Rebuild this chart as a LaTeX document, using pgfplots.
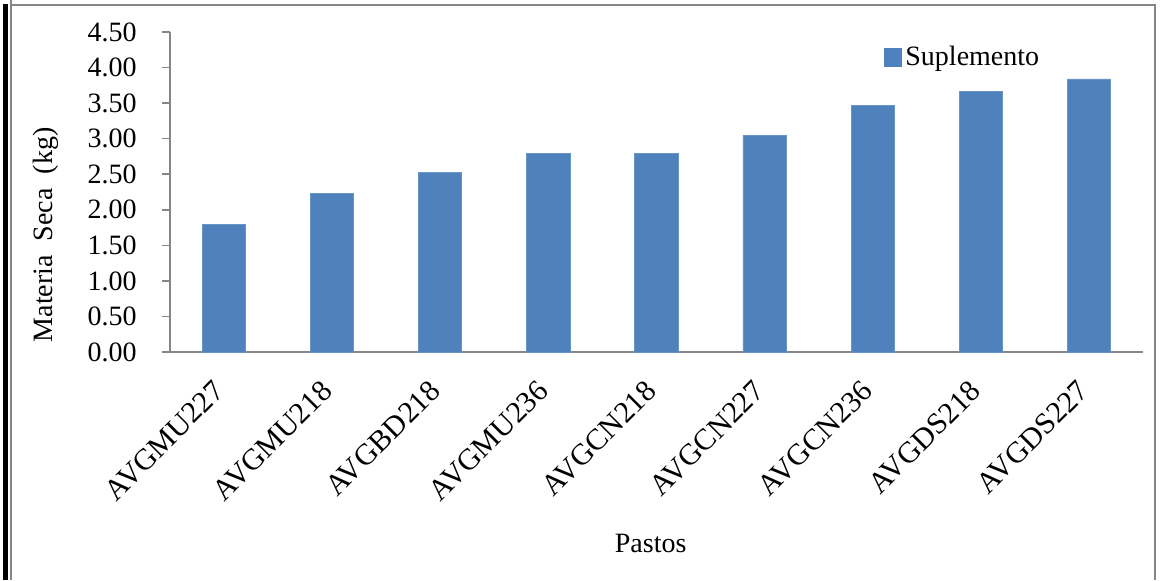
\documentclass[border=0pt]{standalone}
\usepackage{pgfplots}
\pgfplotsset{compat=1.18}
\usepackage{fontspec}
\setmainfont{Liberation Serif}
\definecolor{barblue}{HTML}{4F81BD}
\definecolor{axgray}{HTML}{868686}
\begin{document}
\begin{tikzpicture}
\useasboundingbox (0,0) rectangle (580.5pt,290pt);
% outer frame
\draw[axgray, line width=1pt] (5.5pt,290pt) -- (5.5pt,287.5pt) -- (577.5pt,287.5pt) -- (577.5pt,0pt);
\draw[black, line width=2.5pt] (2.75pt,0pt) -- (2.75pt,288pt);
\draw[axgray, line width=1pt] (5.5pt,0pt) -- (5.5pt,288pt);
\begin{axis}[
  at={(85pt,114pt)}, anchor=south west,
  scale only axis, width=486.5pt, height=160pt,
  ybar, bar width=0.4,
  xmin=-0.5, xmax=8.5, ymin=0, ymax=4.5,
  ytick={0,0.5,...,4.5},
  xtick={0,...,8},
  xticklabels={AVGMU227,AVGMU218,AVGBD218,AVGMU236,AVGCN218,AVGCN227,AVGCN236,AVGDS218,AVGDS227},
  axis x line*=bottom, axis y line*=left,
  axis line style={axgray, line width=0.75pt, -},
  x axis line style={shorten <=-4pt},
  tick align=outside,
  ytick style={axgray, line width=0.75pt},
  major tick length=4pt,
  x tick style={draw=none},
  tick label style={font=\fontsize{14}{16}\selectfont},
  /pgf/number format/assume math mode=true,
  yticklabel={\pgfmathprintnumber[fixed,fixed zerofill,precision=2]{\tick}},
  yticklabel style={anchor=east, inner sep=0pt, xshift=-12.5pt},
  xticklabel style={font=\fontsize{15}{17}\selectfont, inner sep=0pt, xshift=-2.5pt, yshift=-13pt, rotate=45, anchor=east},
  xlabel={Pastos},
  xlabel style={font=\fontsize{14}{16}\selectfont, at={(rel axis cs:0.494,0)}, anchor=center, yshift=-95.5pt},
  ylabel={Materia\ \ Seca\ \ (kg)},
  ylabel style={font=\fontsize{14}{16}\selectfont, at={(rel axis cs:0,0.366)}, anchor=center, yshift=62pt},
  legend style={at={(rel axis cs:0.733,0.922)}, anchor=west, draw=none, fill=none,
     font=\fontsize{14}{16}\selectfont, inner sep=0pt},
  legend image code/.code={\fill[barblue] (0pt,-4.5pt) rectangle (8.5pt,4.5pt);},
  clip=false,
]
\addplot[fill=barblue, draw=barblue!85!white] coordinates {
 (0,1.79) (1,2.23) (2,2.53) (3,2.79) (4,2.79) (5,3.05) (6,3.47) (7,3.66) (8,3.84)};
\addlegendentry{Suplemento}
\end{axis}
\end{tikzpicture}
\end{document}
